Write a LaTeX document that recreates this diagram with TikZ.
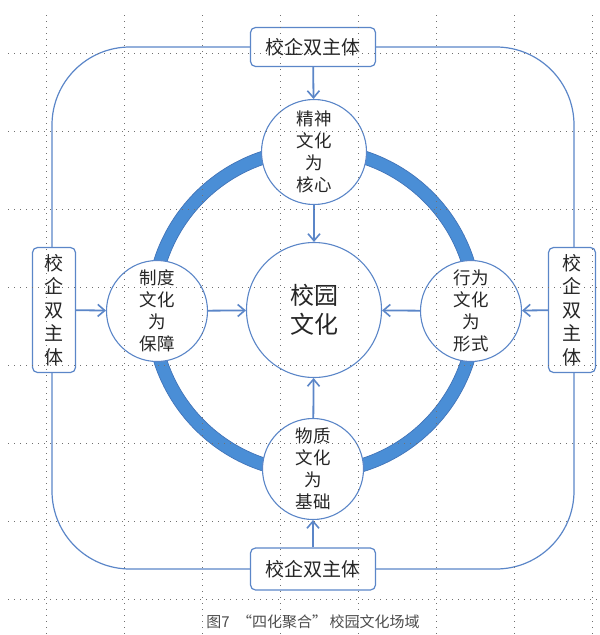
\documentclass[tikz,border=0pt]{standalone}
\usepackage{fontspec}
\newfontfamily\cjk{Noto Sans CJK SC}
\usetikzlibrary{arrows.meta}
\definecolor{lineblue}{HTML}{5B86C8}
\definecolor{ringblue}{HTML}{4A8ED6}
\definecolor{ringedge}{HTML}{4274B8}
\definecolor{gridgray}{HTML}{707070}
\newcommand{\fs}[2]{\fontsize{#1}{#2}\selectfont}

\begin{document}
\begin{tikzpicture}[x=1pt,y=-1pt,
   subject/.style={draw=lineblue, line width=1.2pt, rounded corners=5pt, fill=white,
                   inner sep=0pt, align=center, text=black!85, font=\cjk\fs{19}{23.5}},
   facet/.style={circle, draw=lineblue, line width=1.1pt, fill=white, minimum size=101pt,
                 inner sep=0pt, align=center, text=black!85, font=\cjk\fs{17.5}{22}},
   feed/.style={lineblue, line width=1.8pt,
                -{Straight Barb[length=7pt,width=12pt,line width=1.6pt]}},
   gridline/.style={gridgray, line width=0.9pt, dash pattern=on 0.9pt off 5.1pt}]
   \useasboundingbox (0,0) rectangle (600,635);
 %
   \draw[lineblue, line width=1.2pt, rounded corners=78pt] (52,47) rectangle (574,569);
   \draw[ringedge, line width=0.7pt, fill=ringblue, even odd rule]
     (314,311) circle[radius=168pt] circle[radius=155pt];
 %
   \node[subject, minimum width=125pt, minimum height=39pt] (subjtop)   at (313, 47) {校企双主体};
   \node[subject, minimum width=125pt, minimum height=42pt] (subjbot)   at (313,569) {校企双主体};
   \node[subject, minimum width= 43pt, minimum height=125pt] (subjleft)  at ( 54,310) {校\\企\\双\\主\\体};
   \node[subject, minimum width= 47pt, minimum height=125pt] (subjright) at (572,310) {校\\企\\双\\主\\体};
 %
   \node[facet, minimum size=105pt] (spirit)   at (314,152) {精神\\文化\\为\\核心};
   \node[facet]                     (material) at (313,469) {物质\\文化\\为\\基础};
   \node[facet]                     (system)   at (157,311) {制度\\文化\\为\\保障};
   \node[facet]                     (conduct)  at (471,311) {行为\\文化\\为\\形式};
   \node[facet, minimum size=135pt, font=\cjk\fs{24}{29}] (campus) at (314,310) {校园\\文化};
 %
   \draw[feed] (subjtop)   -- (spirit);
   \draw[feed] (subjbot)   -- (material);
   \draw[feed] (subjleft)  -- (system);
   \draw[feed] (subjright) -- (conduct);
   \draw[feed] (spirit)    -- (campus);
   \draw[feed] (material)  -- (campus);
   \draw[feed] (system)    -- (campus);
   \draw[feed] (conduct)   -- (campus);
 %
   \node[text=black!70, font=\cjk\fs{15}{18}] (caption) at (313,622) {图7\enspace“四化聚合”\,校园文化场域};
 %
   \foreach \gx in {46,124,...,592}
     \draw[gridline] (\gx,15) -- (\gx,635);
   \foreach \gy in {53,131,...,599}
     \draw[gridline] (8,\gy) -- (600,\gy);
\end{tikzpicture}
\end{document}
